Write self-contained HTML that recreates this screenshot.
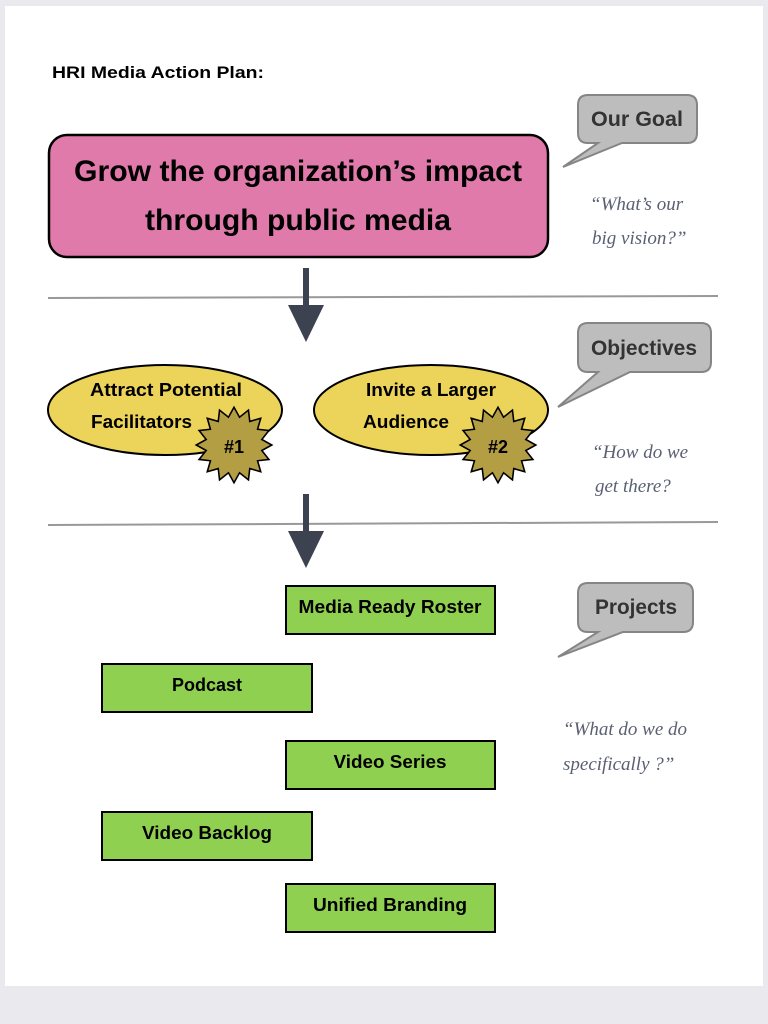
<!DOCTYPE html>
<html><head><meta charset="utf-8"><style>
html,body{margin:0;padding:0;background:#e9e9ee;}
svg{display:block;}
.b{font-family:"Liberation Sans",sans-serif;font-weight:bold;}
.q{font-family:"Liberation Serif",serif;font-style:italic;fill:#5a6072;font-size:19px;}
</style></head><body>
<svg width="768" height="1024" viewBox="0 0 768 1024" xmlns="http://www.w3.org/2000/svg">
<defs>
<polygon id="star" points="36,0 26.48,5.27 33.26,13.78 22.45,15 25.46,25.46 15,22.45 13.78,33.26 5.27,26.48 0,36 -5.27,26.48 -13.78,33.26 -15,22.45 -25.46,25.46 -22.45,15 -33.26,13.78 -26.48,5.27 -36,0 -26.48,-5.27 -33.26,-13.78 -22.45,-15 -25.46,-25.46 -15,-22.45 -13.78,-33.26 -5.27,-26.48 0,-36 5.27,-26.48 13.78,-33.26 15,-22.45 25.46,-25.46 22.45,-15 33.26,-13.78 26.48,-5.27" fill="#b39e44" stroke="#000" stroke-width="1.5"/>
</defs>
<rect x="5" y="6" width="758" height="980" fill="#fff"/>
<text x="52" y="78" class="b" font-size="17" textLength="212" lengthAdjust="spacingAndGlyphs">HRI Media Action Plan:</text>

<rect x="49" y="135" width="499" height="122" rx="18" fill="#e07aab" stroke="#000" stroke-width="2.5"/>
<text x="298" y="181" class="b" font-size="30" text-anchor="middle" textLength="448" lengthAdjust="spacingAndGlyphs">Grow the organization’s impact</text>
<text x="298" y="230" class="b" font-size="30" text-anchor="middle" textLength="306" lengthAdjust="spacingAndGlyphs">through public media</text>

<path d="M588,95 H687 Q697,95 697,105 V133 Q697,143 687,143 H622 L563,167 L598,143 H588 Q578,143 578,133 V105 Q578,95 588,95 Z" fill="#bdbdbd" stroke="#858585" stroke-width="2"/>
<text x="637" y="126" class="b" font-size="21" fill="#333" text-anchor="middle" textLength="92" lengthAdjust="spacingAndGlyphs">Our Goal</text>
<text x="590" y="210" class="q">“What’s our</text>
<text x="592" y="244" class="q">big vision?”</text>

<line x1="48" y1="298" x2="718" y2="296" stroke="#999" stroke-width="2"/>
<rect x="303" y="268" width="6" height="40" fill="#3c4250"/>
<polygon points="288,305 324,305 306,342" fill="#3c4250"/>

<ellipse cx="165" cy="410" rx="117" ry="45" fill="#ecd35a" stroke="#000" stroke-width="2"/>
<ellipse cx="431" cy="410" rx="117" ry="45" fill="#ecd35a" stroke="#000" stroke-width="2"/>
<use href="#star" transform="translate(234,445) scale(1.05)"/>
<use href="#star" transform="translate(498,445) scale(1.05)"/>
<text x="166" y="396" class="b" font-size="18" text-anchor="middle" textLength="152" lengthAdjust="spacingAndGlyphs">Attract Potential</text>
<text x="91" y="428" class="b" font-size="18" textLength="101" lengthAdjust="spacingAndGlyphs">Facilitators</text>
<text x="431" y="396" class="b" font-size="18" text-anchor="middle" textLength="130" lengthAdjust="spacingAndGlyphs">Invite a Larger</text>
<text x="363" y="428" class="b" font-size="18" textLength="86" lengthAdjust="spacingAndGlyphs">Audience</text>
<text x="234" y="453" class="b" font-size="18" text-anchor="middle">#1</text>
<text x="498" y="453" class="b" font-size="18" text-anchor="middle">#2</text>

<path d="M588,323 H701 Q711,323 711,333 V362 Q711,372 701,372 H630 L558,407 L598,372 H588 Q578,372 578,362 V333 Q578,323 588,323 Z" fill="#bdbdbd" stroke="#858585" stroke-width="2"/>
<text x="644" y="355" class="b" font-size="21" fill="#333" text-anchor="middle" textLength="106" lengthAdjust="spacingAndGlyphs">Objectives</text>
<text x="592" y="458" class="q">“How do we</text>
<text x="595" y="492" class="q">get there?</text>

<line x1="48" y1="525" x2="718" y2="522" stroke="#999" stroke-width="2"/>
<rect x="303" y="494" width="6" height="40" fill="#3c4250"/>
<polygon points="288,531 324,531 306,568" fill="#3c4250"/>

<path d="M588,583 H683 Q693,583 693,593 V622 Q693,632 683,632 H623 L558,657 L598,632 H588 Q578,632 578,622 V593 Q578,583 588,583 Z" fill="#bdbdbd" stroke="#858585" stroke-width="2"/>
<text x="636" y="614" class="b" font-size="21" fill="#333" text-anchor="middle" textLength="82" lengthAdjust="spacingAndGlyphs">Projects</text>
<text x="563" y="735" class="q">“What do we do</text>
<text x="563" y="770" class="q">specifically ?”</text>

<g fill="#90d050" stroke="#000" stroke-width="2">
<rect x="286" y="586" width="209" height="48"/>
<rect x="102" y="664" width="210" height="48"/>
<rect x="286" y="741" width="209" height="48"/>
<rect x="102" y="812" width="210" height="48"/>
<rect x="286" y="884" width="209" height="48"/>
</g>
<g class="b" font-size="18" text-anchor="middle">
<text x="390" y="613" textLength="183" lengthAdjust="spacingAndGlyphs">Media Ready Roster</text>
<text x="207" y="691">Podcast</text>
<text x="390" y="768" textLength="113" lengthAdjust="spacingAndGlyphs">Video Series</text>
<text x="207" y="839" textLength="130" lengthAdjust="spacingAndGlyphs">Video Backlog</text>
<text x="390" y="911" textLength="154" lengthAdjust="spacingAndGlyphs">Unified Branding</text>
</g>
</svg>
</body></html>
